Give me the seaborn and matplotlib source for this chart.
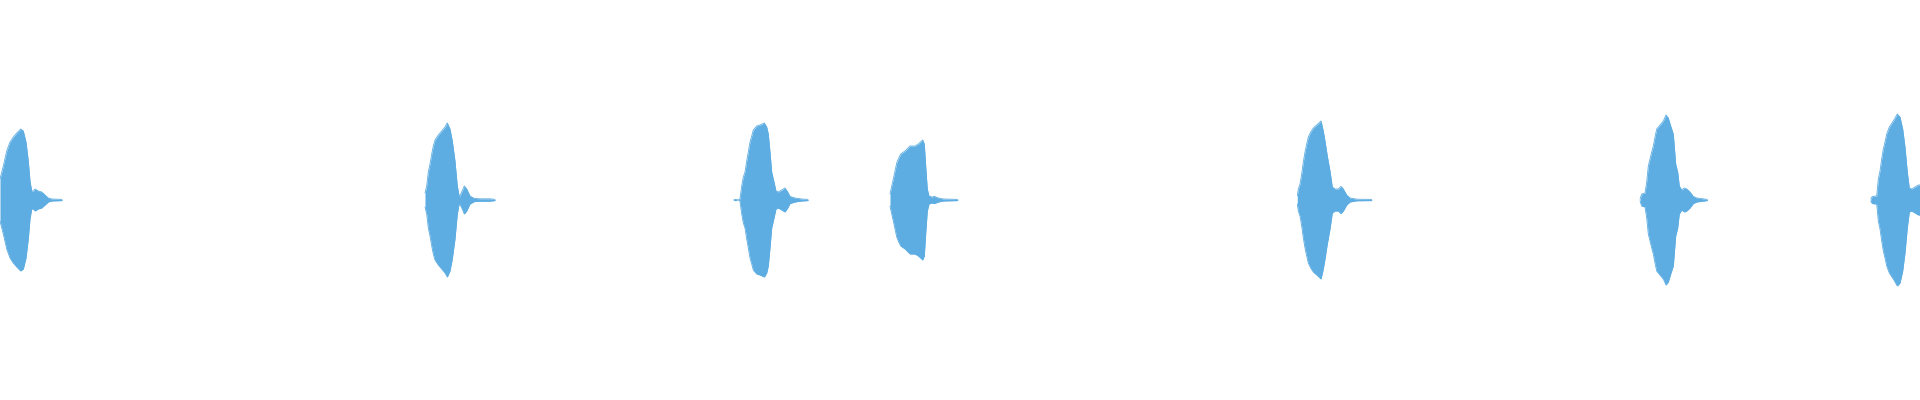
import numpy as np
import pandas as pd
import seaborn as sns
import matplotlib
matplotlib.use("Agg")
import matplotlib.pyplot as plt

# envelope of each burst: frame position and peak amplitude (% of full scale)
b1_frame = [0, 3.3, 6.7, 10, 13.3, 16.7, 20.7, 23.3, 26, 28.3, 30, 31.7, 33.3, 35, 38.3, 41.7, 45, 48.3, 51.7, 62]
b1_amp = [10.5, 17, 24.5, 29, 31.5, 33.5, 35.5, 34.5, 29, 19.5, 9.5, 4.5, 4.5, 5.5, 4.5, 4, 2.5, 1, 0.5, 0.3]

b2_frame = [425, 426.7, 428.3, 430, 431.7, 433.3, 435, 438.3, 441.7, 445, 447.3, 450, 452.3, 455, 457.3, 459.3,
            461.7, 464.3, 466.7, 470, 474.3, 480, 490, 495]
b2_amp = [3.5, 7, 14, 18, 23, 27, 30, 32.5, 34.5, 36.5, 38.5, 35.5, 29.5, 19.5, 7, 1.5,
          4, 7, 5.5, 2, 0.8, 0.6, 0.6, 0.3]

b3_frame = [734, 736, 736.5, 739.5, 740, 741.7, 743.3, 745, 746.7, 748.3, 750, 751.7, 753.3, 756.7, 760, 764.3,
            766.7, 768.3, 770, 771.7, 774, 776, 778.3, 781.7, 785, 787.7, 790, 795, 801.7, 808]
b3_amp = [0.3, 0.3, 0, 0, 0.8, 7, 11.5, 14, 19.5, 24, 29, 32, 35, 37, 37.5, 38.5,
          36.5, 33, 24, 14, 9, 4.5, 4, 5, 6, 4, 1.8, 1, 0.5, 0.3]

b4_frame = [890, 891.7, 893.3, 895, 896.7, 898.3, 900.7, 905, 910, 915, 918.3, 922.7, 924.3, 925.7, 927.3, 929,
            931.7, 934.3, 938.3, 943.3, 957.7]
b4_amp = [3, 7, 10.5, 14.5, 18.5, 20.5, 23, 24.5, 27, 27, 28, 30, 28, 17, 5.5, 2,
          1.5, 1.8, 1, 0.5, 0.3]

b5_frame = [1297.3, 1298.3, 1300, 1301.7, 1303.3, 1305, 1306.7, 1308.3, 1310.7, 1313.3, 1316.7, 1321, 1323.3,
            1325, 1327.3, 1330, 1332.3, 1335, 1338.3, 1341, 1343.3, 1346.7, 1350, 1356.7, 1371.7]
b5_amp = [2, 5.5, 8, 13, 19, 24, 28, 31.5, 34, 36, 37.5, 39.5, 34.5,
          29.5, 22, 14.5, 6.5, 5.5, 5.5, 6.8, 5.5, 2.5, 1, 0.4, 0.3]

b6_frame = [1640, 1641.7, 1645, 1646.7, 1648.3, 1650, 1651.7, 1653.3, 1655, 1656.7, 1660, 1663.3, 1666, 1668.3,
            1670.7, 1673.3, 1675.7, 1677.7, 1679.3, 1681.7, 1684.3, 1686.7, 1690, 1693.3, 1696.7, 1707.3]
b6_amp = [0.5, 3, 3.5, 9, 17, 20.5, 24, 27, 31.5, 35.5, 37.5, 39.5, 42.5, 41,
          37, 33, 18, 14, 7, 5, 6, 5.5, 4, 1.8, 1, 0.3]

b7_frame = [1870.7, 1872.3, 1876.7, 1878.3, 1880, 1881.7, 1883.3, 1885, 1886.7, 1889.3, 1893.3, 1897.3, 1900,
            1902.7, 1905, 1907.3, 1909.3, 1911.7, 1915, 1918.3, 1920]
b7_amp = [0.5, 1.8, 2, 10.5, 14.5, 20.5, 25.5, 29, 33, 36.5, 39.5, 43, 41.5,
          35.5, 26.5, 14, 6, 5.5, 6.5, 7.5, 7.5]

bursts = [(b1_frame, b1_amp), (b2_frame, b2_amp), (b3_frame, b3_amp), (b4_frame, b4_amp),
          (b5_frame, b5_amp), (b6_frame, b6_amp), (b7_frame, b7_amp)]

rows = []
for i, (fr, amp) in enumerate(bursts):
    for f, a in zip(fr, amp):
        rows.append({"burst": i, "frame": f, "upper": a, "lower": -a})
df = pd.DataFrame(rows)

wave_color = "#5DADE2"

sns.set_theme(style="white")
fig = plt.figure(figsize=(19.2, 4), dpi=100)
ax = fig.add_axes([0, 0, 1, 1])

for i, g in df.groupby("burst"):
    ax.fill_between(g["frame"], g["lower"], g["upper"], color=wave_color, linewidth=0)
sns.lineplot(data=df, x="frame", y="upper", units="burst", estimator=None, sort=False,
             color=wave_color, linewidth=0.6, ax=ax)
sns.lineplot(data=df, x="frame", y="lower", units="burst", estimator=None, sort=False,
             color=wave_color, linewidth=0.6, ax=ax)

ax.set_xlim(0, 1920)
ax.set_ylim(-100, 100)
ax.set_axis_off()

fig.savefig("out.png", dpi=100, facecolor="white")
